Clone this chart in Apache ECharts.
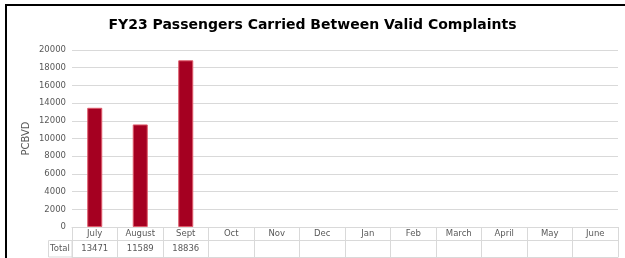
<!DOCTYPE html>
<html>
<head>
<meta charset="utf-8">
<script src="https://cdn.jsdelivr.net/npm/echarts@6/dist/echarts.min.js"></script>
<style>
  html, body { margin: 0; padding: 0; background: #fff; }
  #chart { width: 625px; height: 258px; }
</style>
</head>
<body>
<div id="chart"></div>
<script>
// 月份
const months = ['July', 'August', 'Sept', 'Oct', 'Nov', 'Dec', 'Jan', 'Feb', 'March', 'April', 'May', 'June'];
// 每月数值（空月份为 null）
const totals = [13471, 11589, 18836, null, null, null, null, null, null, null, null, null];
const yTicks = { min: 0, max: 20000, interval: 2000 };

const font = 'DejaVu Sans';
const gray = '#d9d9d9';
const labelColor = '#595959';

const myChart = echarts.init(document.getElementById('chart'));

const options = {
  animation: false,
  title: {
    text: 'FY23 Passengers Carried Between Valid Complaints',
    left: 'center',
    top: 13,
    textStyle: { fontFamily: font, fontSize: 14, fontWeight: 'bold', color: '#000' }
  },
  grid: { left: 72, right: 7, top: 50, bottom: 31 },
  xAxis: [
    {
      type: 'category',
      data: months,
      position: 'bottom',
      axisLine: { lineStyle: { color: gray } },
      axisTick: { show: true, length: 30, lineStyle: { color: gray } },
      axisLabel: { margin: 2, fontFamily: font, fontSize: 8.5, color: labelColor, interval: 0 }
    },
    {
      type: 'category',
      data: months,
      position: 'bottom',
      offset: 13,
      axisLine: { lineStyle: { color: gray } },
      axisTick: { show: false },
      axisLabel: {
        margin: 4, fontFamily: font, fontSize: 8.5, color: labelColor, interval: 0,
        formatter: (v, i) => (totals[i] == null ? '' : String(totals[i]))
      }
    },
    {
      type: 'category',
      data: months,
      position: 'bottom',
      offset: 30,
      axisLine: { lineStyle: { color: gray } },
      axisTick: { show: false },
      axisLabel: { show: false }
    }
  ],
  yAxis: {
    type: 'value',
    min: yTicks.min,
    max: yTicks.max,
    interval: yTicks.interval,
    name: 'PCBVD',
    nameLocation: 'middle',
    nameGap: 41,
    nameMoveOverlap: false,
    nameTextStyle: { fontFamily: font, fontSize: 10, color: labelColor },
    axisLine: { show: false },
    axisTick: { show: false },
    axisLabel: { margin: 6, fontFamily: font, fontSize: 8.5, color: labelColor, formatter: v => String(v) },
    splitLine: { lineStyle: { color: gray } }
  },
  series: [
    {
      type: 'bar',
      data: totals,
      barWidth: '33%',
      itemStyle: { color: '#a50021', borderColor: '#de5a6a', borderWidth: 1 }
    }
  ],
  graphic: [
    // 外边框
    { type: 'rect', shape: { x: 6, y: 5, width: 700, height: 400 }, style: { fill: 'none', stroke: '#000', lineWidth: 2 } },
    // Total 单元格
    { type: 'rect', shape: { x: 48.5, y: 240.5, width: 23.5, height: 16.5 }, style: { fill: 'none', stroke: gray, lineWidth: 1 } },
    { type: 'text', left: 50, top: 244, style: { text: 'Total', font: '8.5px "DejaVu Sans"', fill: labelColor } }
  ]
};

myChart.setOption(options);
</script>
</body>
</html>
